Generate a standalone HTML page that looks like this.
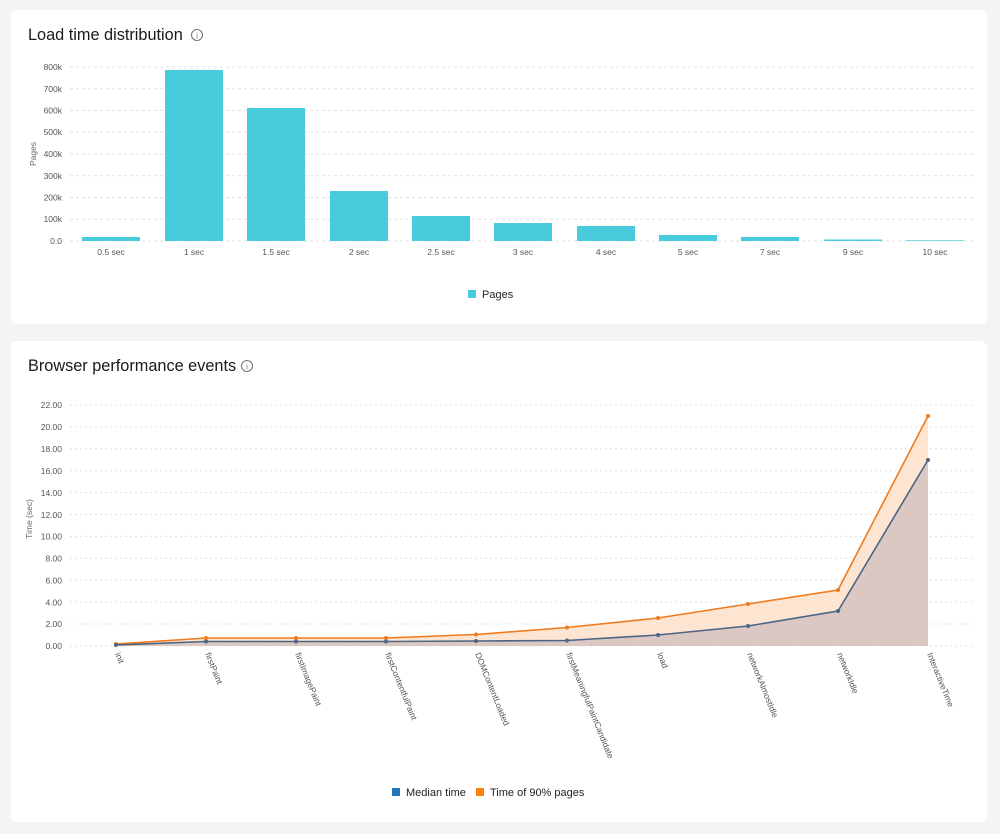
<!DOCTYPE html>
<html><head><meta charset="utf-8"><style>
body{margin:0;background:#f4f4f5;width:1000px;height:834px;overflow:hidden;font-family:"Liberation Sans",sans-serif}
svg{position:absolute;left:0;top:0}
</style></head><body>
<svg width="1000" height="834" xmlns="http://www.w3.org/2000/svg" font-family="Liberation Sans, sans-serif">
<rect x="11" y="10" width="976" height="314" rx="6" fill="#fff"/>
<rect x="11" y="341" width="976" height="481" rx="6" fill="#fff"/>
<text x="28" y="40" font-size="16.3" fill="#1a1a1a">Load time distribution</text>
<circle cx="197" cy="35" r="5.5" fill="none" stroke="#777" stroke-width="1.1"/><text x="197" y="38.5" font-size="8" fill="#777" text-anchor="middle">i</text>
<text x="28" y="371" font-size="16.3" fill="#1a1a1a">Browser performance events</text>
<circle cx="247" cy="366" r="5.5" fill="none" stroke="#777" stroke-width="1.1"/><text x="247" y="369.5" font-size="8" fill="#777" text-anchor="middle">i</text>
<g stroke="#e0e0e0" stroke-dasharray="3,3" stroke-width="1">
<line x1="70" x2="975" y1="67" y2="67"/><line x1="70" x2="975" y1="88.75" y2="88.75"/><line x1="70" x2="975" y1="110.5" y2="110.5"/><line x1="70" x2="975" y1="132.25" y2="132.25"/><line x1="70" x2="975" y1="154" y2="154"/><line x1="70" x2="975" y1="175.75" y2="175.75"/><line x1="70" x2="975" y1="197.5" y2="197.5"/><line x1="70" x2="975" y1="219.25" y2="219.25"/><line x1="70" x2="975" y1="241" y2="241"/>
</g>
<g font-size="8.5" fill="#555" text-anchor="end">
<text x="62" y="70">800k</text><text x="62" y="92">700k</text><text x="62" y="113.5">600k</text><text x="62" y="135">500k</text><text x="62" y="157">400k</text><text x="62" y="179">300k</text><text x="62" y="200.5">200k</text><text x="62" y="222">100k</text><text x="62" y="244">0.0</text>
</g>
<text transform="translate(36,154) rotate(-90)" font-size="8.5" fill="#666" text-anchor="middle">Pages</text>
<g fill="#48cbdc">
<rect x="82" y="237" width="58" height="4"/><rect x="165" y="70" width="58" height="171"/><rect x="247" y="108" width="58" height="133"/><rect x="330" y="191" width="58" height="50"/><rect x="412" y="216" width="58" height="25"/><rect x="494" y="223" width="58" height="18"/><rect x="577" y="226" width="58" height="15"/><rect x="659" y="235" width="58" height="6"/><rect x="741" y="237" width="58" height="4"/><rect x="824" y="239.5" width="58" height="1.5"/><rect x="906" y="240.3" width="58" height="0.7"/>
</g>
<g font-size="8.5" fill="#555" text-anchor="middle">
<text x="111" y="255">0.5 sec</text><text x="194" y="255">1 sec</text><text x="276" y="255">1.5 sec</text><text x="359" y="255">2 sec</text><text x="441" y="255">2.5 sec</text><text x="523" y="255">3 sec</text><text x="606" y="255">4 sec</text><text x="688" y="255">5 sec</text><text x="770" y="255">7 sec</text><text x="853" y="255">9 sec</text><text x="935" y="255">10 sec</text>
</g>
<rect x="468" y="290" width="8" height="8" fill="#48cbdc"/><text x="482" y="298" font-size="11" fill="#222">Pages</text>
<g stroke="#e0e0e0" stroke-dasharray="2,3" stroke-width="1">
<line x1="70" x2="975" y1="405" y2="405"/><line x1="70" x2="975" y1="426.9" y2="426.9"/><line x1="70" x2="975" y1="448.8" y2="448.8"/><line x1="70" x2="975" y1="470.7" y2="470.7"/><line x1="70" x2="975" y1="492.6" y2="492.6"/><line x1="70" x2="975" y1="514.5" y2="514.5"/><line x1="70" x2="975" y1="536.4" y2="536.4"/><line x1="70" x2="975" y1="558.3" y2="558.3"/><line x1="70" x2="975" y1="580.2" y2="580.2"/><line x1="70" x2="975" y1="602.1" y2="602.1"/><line x1="70" x2="975" y1="624" y2="624"/><line x1="70" x2="975" y1="646" y2="646"/>
</g>
<g font-size="8.5" fill="#555" text-anchor="end">
<text x="62" y="408">22.00</text><text x="62" y="430">20.00</text><text x="62" y="452">18.00</text><text x="62" y="474">16.00</text><text x="62" y="496">14.00</text><text x="62" y="518">12.00</text><text x="62" y="539.5">10.00</text><text x="62" y="561.5">8.00</text><text x="62" y="583.5">6.00</text><text x="62" y="605.5">4.00</text><text x="62" y="627">2.00</text><text x="62" y="649">0.00</text>
</g>
<text transform="translate(32,519) rotate(-90)" font-size="8.5" fill="#666" text-anchor="middle">Time (sec)</text>
<polygon fill="#fde5d1" points="116,646 116,644 206,638 296,638 386,638 476,634.5 567,627.5 658,618 748,604 838,590 928,416 928,646"/>
<polygon fill="#dbc8c3" points="116,646 116,645 206,641.5 296,641.5 386,641.5 476,641 567,640.5 658,635 748,626 838,611 928,460 928,646"/>
<polyline fill="none" stroke="#f07a1c" stroke-width="1.6" points="116,644 206,638 296,638 386,638 476,634.5 567,627.5 658,618 748,604 838,590 928,416"/>
<polyline fill="none" stroke="#4b6585" stroke-width="1.6" points="116,645 206,641.5 296,641.5 386,641.5 476,641 567,640.5 658,635 748,626 838,611 928,460"/>
<g fill="#f07a1c"><circle cx="116" cy="644" r="2"/><circle cx="206" cy="638" r="2"/><circle cx="296" cy="638" r="2"/><circle cx="386" cy="638" r="2"/><circle cx="476" cy="634.5" r="2"/><circle cx="567" cy="627.5" r="2"/><circle cx="658" cy="618" r="2"/><circle cx="748" cy="604" r="2"/><circle cx="838" cy="590" r="2"/><circle cx="928" cy="416" r="2"/></g>
<g fill="#4b6585"><circle cx="116" cy="645" r="2"/><circle cx="206" cy="641.5" r="2"/><circle cx="296" cy="641.5" r="2"/><circle cx="386" cy="641.5" r="2"/><circle cx="476" cy="641" r="2"/><circle cx="567" cy="640.5" r="2"/><circle cx="658" cy="635" r="2"/><circle cx="748" cy="626" r="2"/><circle cx="838" cy="611" r="2"/><circle cx="928" cy="460" r="2"/></g>
<g font-size="8.5" fill="#555">
<text transform="translate(115,654) rotate(68)">init</text>
<text transform="translate(205,654) rotate(68)">firstPaint</text>
<text transform="translate(295,654) rotate(68)">firstImagePaint</text>
<text transform="translate(385,654) rotate(68)">firstContentfulPaint</text>
<text transform="translate(475,654) rotate(68)">DOMContentLoaded</text>
<text transform="translate(566,654) rotate(68)">firstMeaningfulPaintCandidate</text>
<text transform="translate(657,654) rotate(68)">load</text>
<text transform="translate(747,654) rotate(68)">networkAlmostIdle</text>
<text transform="translate(837,654) rotate(68)">networkIdle</text>
<text transform="translate(927,654) rotate(68)">InteractiveTime</text>
</g>
<rect x="392" y="788" width="8" height="8" fill="#1f77b4"/><text x="406" y="796" font-size="11" fill="#222">Median time</text>
<rect x="476" y="788" width="8" height="8" fill="#ff7f0e"/><text x="490" y="796" font-size="11" fill="#222">Time of 90% pages</text>
</svg>
</body></html>
